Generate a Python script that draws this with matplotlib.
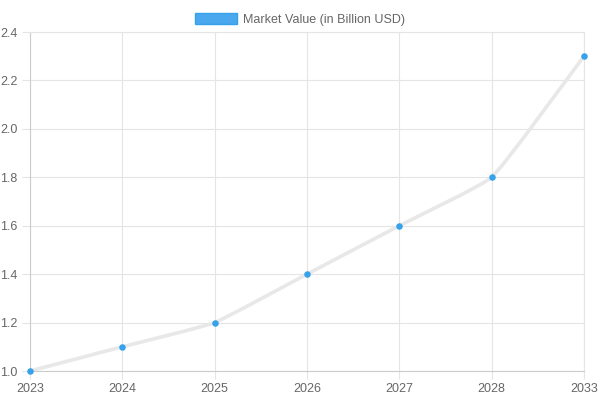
import matplotlib.pyplot as plt
import numpy as np
from matplotlib.path import Path
from matplotlib.patches import PathPatch

years = ["2023", "2024", "2025", "2026", "2027", "2028", "2033"]
market_value = [1.0, 1.1, 1.2, 1.4, 1.6, 1.8, 2.3]
label = "Market Value (in Billion USD)"

point_color = "#36A2EB"
line_color = "#e8e8e8"
grid_color = "#e5e5e5"
text_color = "#666666"

plt.rcParams["font.family"] = ["Liberation Sans", "DejaVu Sans"]

fig = plt.figure(figsize=(6, 4), dpi=100)
ax = fig.add_axes([0.05, 0.0725, 0.9233, 0.8475])

x = np.arange(len(years))
y = np.array(market_value)

ax.set_xlim(0, len(years) - 1)
ax.set_ylim(1.0, 2.4)

# light bezier smoothing, computed in pixel-like space
sx, sy = 554 / 6, 339 / 1.4
px, py = x * sx, y * sy
tension = 0.12
verts = [(x[0], y[0])]
codes = [Path.MOVETO]
cps = []
for i in range(len(x)):
    i0, i2 = max(i - 1, 0), min(i + 1, len(x) - 1)
    d01 = np.hypot(px[i] - px[i0], py[i] - py[i0])
    d12 = np.hypot(px[i2] - px[i], py[i2] - py[i])
    tot = d01 + d12 if d01 + d12 > 0 else 1
    fa, fb = tension * d01 / tot, tension * d12 / tot
    dx, dy = px[i2] - px[i0], py[i2] - py[i0]
    prev = ((px[i] - fa * dx) / sx, (py[i] - fa * dy) / sy)
    nxt = ((px[i] + fb * dx) / sx, (py[i] + fb * dy) / sy)
    cps.append((prev, nxt))
for i in range(1, len(x)):
    verts += [cps[i - 1][1], cps[i][0], (x[i], y[i])]
    codes += [Path.CURVE4] * 3
ax.add_patch(PathPatch(Path(verts, codes), facecolor="none", edgecolor=line_color,
                       lw=2.6, zorder=2, clip_on=False))

ax.scatter(x, y, s=22, color=point_color, zorder=3, clip_on=False, linewidths=0)

ax.set_xticks(x)
ax.set_xticklabels(years)
ax.set_yticks(np.arange(1.0, 2.41, 0.2))
ax.set_yticklabels([f"{v:.1f}" for v in np.arange(1.0, 2.41, 0.2)])
ax.grid(True, color=grid_color, lw=0.8)
ax.set_axisbelow(True)
for s in ax.spines.values():
    s.set_color(grid_color)
    s.set_linewidth(0.8)
ax.spines["left"].set_color("#cccccc")
ax.spines["bottom"].set_color("#cccccc")
ax.tick_params(colors=text_color, labelsize=9, length=6, width=0.8, pad=3)
ax.tick_params(axis="both", color=grid_color)

handle = plt.Rectangle((0, 0), 1, 1, facecolor="#4aa8ee", edgecolor=point_color, lw=1)
fig.legend([handle], [label], loc="upper center", bbox_to_anchor=(0.5, 0.995),
           frameon=False, fontsize=9, labelcolor=text_color, handlelength=3.4,
           handleheight=0.9, handletextpad=0.5)

fig.savefig("out.png", dpi=100)
